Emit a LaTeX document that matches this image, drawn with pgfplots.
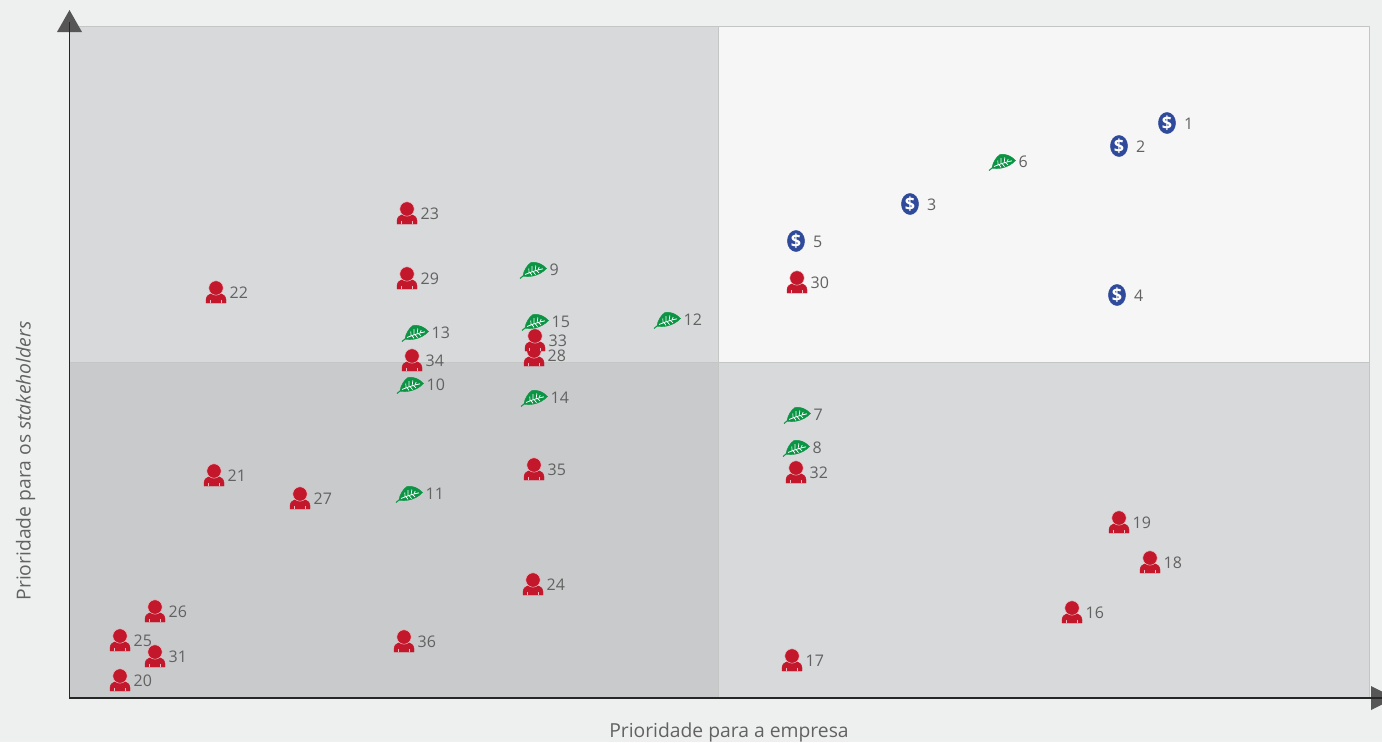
\documentclass[border=0pt]{standalone}
\usepackage{pgfplots}
\usepackage{fontspec}
\setmainfont{Open Sans}
\pgfplotsset{compat=1.18}
\definecolor{bgout}{HTML}{EEF0EF}
\definecolor{tl}{HTML}{D7D9DA}
\definecolor{tr}{HTML}{F6F6F6}
\definecolor{bl}{HTML}{C9CACB}
\definecolor{edge}{HTML}{C4C6C6}
\definecolor{arrowc}{HTML}{565656}
\definecolor{txt}{HTML}{626262}
\definecolor{pred}{HTML}{C3172B}
\definecolor{pgreen}{HTML}{0B9444}
\definecolor{pblue}{HTML}{2F4A9A}
\pgfdeclareplotmark{person}{%
  \fill[pred] (-10pt,-11pt) -- (10pt,-11pt) -- (10pt,-7.5pt) .. controls (9.5pt,-3.5pt) and (7pt,-2.5pt) .. (4.5pt,-1.5pt) -- (-4.5pt,-1.5pt) .. controls (-7pt,-2.5pt) and (-9.5pt,-3.5pt) .. (-10pt,-7.5pt) -- cycle;
  \draw[white!70!pred,line width=0.5pt] (-5.6pt,-11pt) -- (-5.6pt,-7.5pt) (5.6pt,-11pt) -- (5.6pt,-7.5pt);
  \fill[pred,draw=white!70!pred,line width=0.5pt] (0pt,4pt) circle (7.2pt);
}
\pgfdeclareplotmark{leaf}{%
  \draw[pgreen,line width=1pt] (-13pt,-8.5pt) .. controls (-10pt,-6pt) and (-8pt,-4.5pt) .. (-6pt,-3pt);
  \fill[pgreen] (13.5pt,1.5pt) .. controls (9pt,6.5pt) and (3pt,8.5pt) .. (-2pt,7.5pt) .. controls (-6pt,5pt) and (-9.5pt,-1pt) .. (-10pt,-6pt) .. controls (-5pt,-7.5pt) and (6pt,-6.5pt) .. (13.5pt,1.5pt) -- cycle;
  \draw[white,line width=0.8pt] (-8pt,-4.5pt) .. controls (-2pt,-2pt) and (4pt,0pt) .. (10pt,1.2pt);
  \draw[white,line width=0.7pt] (-4pt,-3pt) -- (-4.2pt,1.5pt) (-1pt,-1.8pt) -- (-1pt,4pt) (2.2pt,-0.6pt) -- (2.8pt,4.5pt) (5.2pt,0.2pt) -- (6.2pt,3pt)
    (-3pt,-2.6pt) -- (-1pt,-5.4pt) (0pt,-1.4pt) -- (2.5pt,-4.6pt) (3pt,-0.3pt) -- (6pt,-2.8pt);
}
\pgfdeclareplotmark{dollar}{%
  \fill[pblue] (0pt,0pt) ellipse (8.6pt and 10.6pt);
  \node[inner sep=0pt,text=white] at (0pt,0pt) {\fontsize{18}{18}\selectfont\bfseries\$};
}
\pgfplotstableread{
x y n
120 680 20
120 640 25
155 611 26
155 656 31
214 475 21
216 292 22
300 498 27
407 213 23
407 278 29
412 360 34
404 641 36
533 584 24
534 355 28
535 340 33
534 469 35
792 660 17
796 472 32
797 282 30
1072 612 16
1150 562 18
1119 522 19
}\persons
\pgfplotstableread{
x y n
1002 162 6
797 415 7
796 448 8
533 270 9
410 385 10
409 494 11
667 320 12
415 333 13
534 398 14
535 322 15
}\leaves
\pgfplotstableread{
x y n
1167 123 1
1119 146 2
910 204 3
1117 295 4
796 241 5
}\dollars
\begin{document}
\begin{tikzpicture}
\begin{axis}[
  scale only axis, width=1382pt, height=742pt,
  xmin=0, xmax=1382, ymin=0, ymax=742, y dir=reverse,
  ticks=none, axis line style={draw=none},
  point meta=explicit symbolic,
  lab/.style 2 args={nodes near coords, every node near coord/.append style={font=\fontsize{16}{18}\selectfont, text=txt, anchor=west, inner sep=0pt, xshift=#1, yshift=#2}},
]
\addplot[fill=bgout,draw=none,forget plot] coordinates {(0,0)(1382,0)(1382,742)(0,742)};
\addplot[fill=tl,draw=none,forget plot] coordinates {(70,26)(718.5,26)(718.5,362)(70,362)};
\addplot[fill=tr,draw=edge,line width=0.6pt,forget plot] coordinates {(718.5,26)(1369,26)(1369,362)(718.5,362)(718.5,26)};
\addplot[fill=bl,draw=none,forget plot] coordinates {(70,362)(718.5,362)(718.5,698)(70,698)};
\addplot[fill=tl,draw=none,forget plot] coordinates {(718.5,362)(1369,362)(1369,698)(718.5,698)};
\addplot[draw=edge,line width=0.6pt,forget plot] coordinates {(70,26)(718.5,26)};
\addplot[draw=edge,line width=0.6pt,forget plot] coordinates {(70,362)(1369,362)};
\addplot[draw=edge,line width=0.6pt,forget plot] coordinates {(718.5,362)(718.5,698)};
\addplot[draw=edge,line width=0.6pt,forget plot] coordinates {(1369,362)(1369,698)};
\addplot[fill=arrowc,draw=none,forget plot] coordinates {(69.5,10)(82,32)(57,32)};
\addplot[fill=arrowc,draw=none,forget plot] coordinates {(1371,686)(1382,691.5)(1382,704.5)(1371,710)};
\addplot[draw=black!85,line width=1.7pt,forget plot] coordinates {(69.5,22)(69.5,698)};
\addplot[draw=black!85,line width=1.7pt,forget plot] coordinates {(69,698)(1382,698)};
\addplot[only marks, mark=person, lab={13.5pt}{-1pt}] table[meta=n] {\persons};
\addplot[only marks, mark=leaf, lab={16.5pt}{0pt}] table[meta=n] {\leaves};
\addplot[only marks, mark=dollar, lab={17pt}{-1pt}] table[meta=n] {\dollars};
\node[text=txt,font=\fontsize{19.3}{22}\selectfont] at (axis cs:729,732.5) {Prioridade para a empresa};
\node[text=txt,font=\fontsize{19.3}{22}\selectfont,rotate=90] at (axis cs:25.5,461) {Prioridade para os \textit{stakeholders}};
\end{axis}
\end{tikzpicture}
\end{document}
